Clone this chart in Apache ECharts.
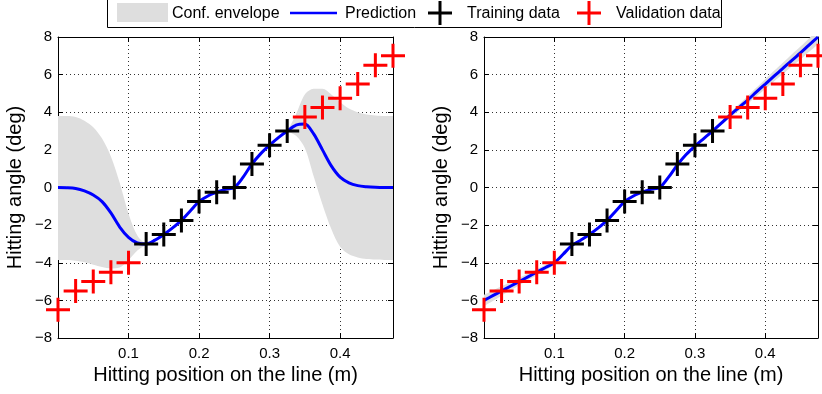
<!DOCTYPE html>
<html>
<head>
<meta charset="utf-8">
<script src="https://cdn.jsdelivr.net/npm/echarts@6/dist/echarts.min.js"></script>
<style>
  html, body { margin: 0; padding: 0; background: #fff; }
  #chart { width: 822px; height: 394px; }
</style>
</head>
<body>
<div id="chart"></div>
<script>
// Sample positions along the line (m) for the GP curves
const xGrid = [0, 0.0125, 0.025, 0.0375, 0.05, 0.0625, 0.075, 0.0875, 0.1, 0.1125,
  0.125, 0.1375, 0.15, 0.1625, 0.175, 0.1875, 0.2, 0.2125, 0.225, 0.2375,
  0.25, 0.2625, 0.275, 0.2875, 0.3, 0.3125, 0.325, 0.3375, 0.35, 0.3625,
  0.375, 0.3875, 0.4, 0.4125, 0.425, 0.4375, 0.45, 0.4625, 0.475];

// Left panel: zero-mean GP
const leftMean = [0, -0.01, -0.05, -0.18, -0.4, -0.75, -1.35, -2.1, -2.65, -2.95,
  -3.0, -2.8, -2.5, -2.15, -1.75, -1.25, -0.75, -0.45, -0.25, -0.1,
  0.0, 0.55, 1.25, 1.8, 2.25, 2.65, 3.0, 3.32, 3.38, 2.85,
  2.0, 1.15, 0.55, 0.25, 0.1, 0.04, 0.01, 0, 0];
const leftUpper = [3.8, 3.8, 3.75, 3.55, 3.2, 2.6, 1.65, 0.25, -1.4, -2.55,
  -2.95, -2.72, -2.42, -2.07, -1.67, -1.17, -0.67, -0.37, -0.17, -0.02,
  0.08, 0.63, 1.33, 1.88, 2.33, 2.73, 3.05, 3.9, 4.95, 5.25,
  5.25, 4.95, 4.55, 4.2, 4.0, 3.88, 3.83, 3.8, 3.8];
const leftLower = [-3.85, -3.86, -3.9, -3.98, -4.1, -4.22, -4.3, -4.25, -3.85, -3.35,
  -3.05, -2.88, -2.58, -2.23, -1.83, -1.33, -0.83, -0.53, -0.33, -0.18,
  -0.08, 0.47, 1.17, 1.72, 2.17, 2.57, 2.95, 2.75, 2.1, 0.6,
  -0.9, -2.2, -3.15, -3.55, -3.72, -3.8, -3.83, -3.85, -3.85];

// Right panel: GP with linear mean
const rightMean = [-6.0, -5.75, -5.5, -5.25, -5.0, -4.75, -4.5, -4.25, -4.0, -3.55,
  -3.08, -2.8, -2.5, -2.15, -1.75, -1.25, -0.75, -0.45, -0.25, -0.1,
  0.0, 0.55, 1.2, 1.75, 2.2, 2.6, 3.0, 3.42, 3.85, 4.25,
  4.65, 5.08, 5.5, 5.92, 6.33, 6.75, 7.15, 7.58, 8.0];
const rightUpper = [-5.7, -5.47, -5.25, -5.02, -4.8, -4.57, -4.34, -4.11, -3.88, -3.45,
  -3.02, -2.74, -2.44, -2.09, -1.69, -1.19, -0.69, -0.39, -0.19, -0.04,
  0.06, 0.61, 1.26, 1.81, 2.26, 2.66, 3.06, 3.52, 3.99, 4.42,
  4.85, 5.31, 5.76, 6.2, 6.63, 7.07, 7.49, 7.94, 8.38];
const rightLower = [-6.3, -6.03, -5.75, -5.48, -5.2, -4.93, -4.66, -4.39, -4.12, -3.65,
  -3.14, -2.86, -2.56, -2.21, -1.81, -1.31, -0.81, -0.51, -0.31, -0.16,
  -0.06, 0.49, 1.14, 1.69, 2.14, 2.54, 2.94, 3.32, 3.71, 4.08,
  4.45, 4.85, 5.24, 5.64, 6.03, 6.43, 6.81, 7.22, 7.62];

// Measured hits
const trainX = [0.125, 0.15, 0.175, 0.2, 0.225, 0.25, 0.275, 0.3, 0.325];
const trainY = [-3, -2.5, -1.75, -0.75, -0.25, 0, 1.25, 2.25, 3];
const valX = [0, 0.025, 0.05, 0.075, 0.1, 0.35, 0.375, 0.4, 0.425, 0.45, 0.475];
const valY = [-6.5, -5.5, -5, -4.5, -4, 3.75, 4.25, 4.75, 5.5, 6.5, 7];

const xTickLabels = ['0.1', '0.2', '0.3', '0.4'];

const FONT = 'Liberation Sans, Arial, Helvetica, sans-serif';
const ENV_GREY = '#dedede';
const PLUS = 'path://M10.5,0h3v24h-3zM0,10.5h24v3h-24z';

const pairs = (xs, ys) => xs.map((x, i) => [x, ys[i]]);
// Envelope rows are [y, x] so the stack runs over the angle column
const envRows = ys => ys.map((y, i) => [y, xGrid[i]]);
const envBand = (hi, lo) => hi.map((v, i) => [+(v - lo[i]).toFixed(4), xGrid[i]]);

function xAxes(grid) {
  const common = {
    gridIndex: grid, type: 'value', min: 0, max: 0.475, interval: 0.1,
    axisLine: { show: true, onZero: false, lineStyle: { color: '#000', width: 1 } },
    axisTick: { show: true, inside: true, length: 5, lineStyle: { color: '#000' } }
  };
  return [
    Object.assign({}, common, {
      position: 'bottom',
      axisLabel: {
        color: '#000', fontSize: 15, fontFamily: FONT, margin: 8,
        formatter: v => {
          const s = v.toFixed(1);
          return (v > 0.05 && v < 0.45 && xTickLabels.includes(s)) ? s : '';
        }
      },
      splitLine: { show: true, lineStyle: { color: '#333', width: 1, type: [1, 3] } },
      name: 'Hitting position on the line (m)', nameLocation: 'middle', nameGap: 27,
      nameTextStyle: { color: '#000', fontSize: 20, fontFamily: FONT }
    }),
    Object.assign({}, common, {
      position: 'top', axisLabel: { show: false }, splitLine: { show: false }
    })
  ];
}

function yAxes(grid) {
  const common = {
    gridIndex: grid, type: 'value', min: -8, max: 8, interval: 2,
    axisLine: { show: true, onZero: false, lineStyle: { color: '#000', width: 1 } },
    axisTick: { show: true, inside: true, length: 5, lineStyle: { color: '#000' } }
  };
  return [
    Object.assign({}, common, {
      position: 'left',
      axisLabel: {
        color: '#000', fontSize: 15, fontFamily: FONT, margin: 6,
        formatter: v => String(v).replace('-', '\u2212')
      },
      splitLine: { show: true, lineStyle: { color: '#333', width: 1, type: [1, 3] } },
      name: 'Hitting angle (deg)', nameLocation: 'middle', nameGap: 33, nameRotate: 90,
      nameTextStyle: { color: '#000', fontSize: 20, fontFamily: FONT }
    }),
    Object.assign({}, common, {
      position: 'right', axisLabel: { show: false }, splitLine: { show: false }
    })
  ];
}

function panelSeries(ax, mean, upper, lower, tag) {
  return [
    {
      type: 'line', xAxisIndex: ax, yAxisIndex: ax, stack: tag, stackStrategy: 'all',
      encode: { x: 1, y: 0 }, data: envRows(lower), symbol: 'none', smooth: 0.3,
      lineStyle: { opacity: 0 }, silent: true, z: 1
    },
    {
      type: 'line', xAxisIndex: ax, yAxisIndex: ax, stack: tag, stackStrategy: 'all',
      encode: { x: 1, y: 0 }, data: envBand(upper, lower), symbol: 'none', smooth: 0.3,
      lineStyle: { opacity: 0 }, areaStyle: { color: ENV_GREY, opacity: 1 }, silent: true, z: 1
    },
    {
      type: 'line', xAxisIndex: ax, yAxisIndex: ax, data: pairs(xGrid, mean),
      symbol: 'none', smooth: 0.3, lineStyle: { color: '#0000ff', width: 3 }, z: 3
    },
    {
      type: 'scatter', xAxisIndex: ax, yAxisIndex: ax, data: pairs(trainX, trainY),
      symbol: PLUS, symbolSize: 24, itemStyle: { color: '#000', opacity: 1 }, clip: false, z: 4
    },
    {
      type: 'scatter', xAxisIndex: ax, yAxisIndex: ax, data: pairs(valX, valY),
      symbol: PLUS, symbolSize: 24, itemStyle: { color: '#ff0000', opacity: 1 }, clip: false, z: 4
    }
  ];
}

function plusShape(cx, cy, color) {
  return [
    { type: 'rect', z: 11, shape: { x: cx - 1.5, y: cy - 12, width: 3, height: 24 }, style: { fill: color } },
    { type: 'rect', z: 11, shape: { x: cx - 12, y: cy - 1.5, width: 24, height: 3 }, style: { fill: color } }
  ];
}

const legendY = 14;
const legendText = (x, t) => ({
  type: 'text', z: 11, x: x, y: legendY,
  style: { text: t, fill: '#000', font: '16px ' + FONT, verticalAlign: 'middle', align: 'left' }
});

const chart = echarts.init(document.getElementById('chart'), null, { renderer: 'canvas' });
chart.setOption({
  animation: false,
  backgroundColor: '#fff',
  grid: [
    { left: 58, top: 37, width: 335, height: 301, outerBoundsMode: 'none' },
    { left: 484, top: 37, width: 334, height: 301, outerBoundsMode: 'none' }
  ],
  xAxis: [...xAxes(0), ...xAxes(1)],
  yAxis: [...yAxes(0), ...yAxes(1)],
  series: [
    ...panelSeries(0, leftMean, leftUpper, leftLower, 'envLeft'),
    ...panelSeries(2, rightMean, rightUpper, rightLower, 'envRight')
  ],
  graphic: [
    {
      type: 'rect', z: 10, shape: { x: 107.5, y: -1.5, width: 614, height: 29 },
      style: { fill: '#fff', stroke: '#000', lineWidth: 1 }
    },
    { type: 'rect', z: 11, shape: { x: 117, y: 3, width: 51, height: 19 }, style: { fill: ENV_GREY } },
    legendText(172, 'Conf. envelope'),
    { type: 'line', z: 11, shape: { x1: 290, y1: 13, x2: 337, y2: 13 }, style: { stroke: '#0000ff', lineWidth: 2.5 } },
    legendText(345, 'Prediction'),
    ...plusShape(440, 13, '#000'),
    legendText(467, 'Training data'),
    ...plusShape(589, 13, '#ff0000'),
    legendText(616, 'Validation data')
  ]
});
</script>
</body>
</html>
